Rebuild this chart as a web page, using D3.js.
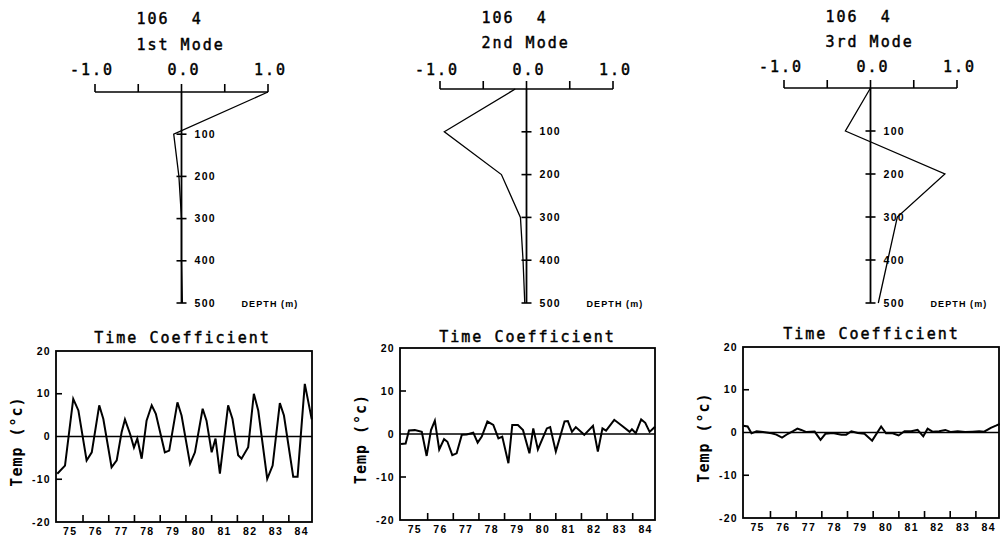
<!DOCTYPE html>
<html>
<head>
<meta charset="utf-8">
<script src="https://cdn.jsdelivr.net/npm/d3@7"></script>
<style>
  body { margin: 0; background: #fff; }
  svg { display: block; }
  .ttl { font-family: "DejaVu Sans Mono", monospace; font-size: 15px; letter-spacing: 2px; fill: #000; stroke: #000; stroke-width: 0.45px; }
  .lab { font-family: "Liberation Sans", Arial, sans-serif; font-size: 10.5px; font-weight: bold; fill: #000; letter-spacing: 1.3px; }
  .ylab { font-family: "DejaVu Sans Mono", monospace; font-size: 15px; font-weight: bold; letter-spacing: 1px; fill: #000; }
</style>
</head>
<body>
<svg id="chart" width="1000" height="538"></svg>
<script>
// vertical modes
const depths = [0, 100, 200, 300, 400, 500];
const depthTicks = [100, 200, 300, 400, 500];
const ampTicks = [-1.0, -0.5, 0, 0.5, 1.0];
const ampLabels = [-1.0, 0.0, 1.0];
const stationLabel = "106  4";
const modeNames = ["1st Mode", "2nd Mode", "3rd Mode"];
const mode1 = [1.0, -0.09, -0.03, 0.0, 0.0, 0.01];
const mode2 = [-0.13, -0.95, -0.29, -0.07, -0.04, -0.02];
const mode3 = [0.0, -0.29, 0.86, 0.31, 0.2, 0.09];

// time coefficients [year, temp]
const yearTicks = [76, 77, 78, 79, 80, 81, 82, 83, 84];
const yearLabels = [75, 76, 77, 78, 79, 80, 81, 82, 83, 84];
const tempTicks = [-20, -10, 0, 10, 20];
const time1 = [[75.00,-8.7],[75.30,-6.8],[75.62,8.8],[75.82,6.1],[76.14,-5.6],[76.34,-3.7],[76.63,7.3],[76.79,4.1],
  [77.11,-7.2],[77.31,-5.6],[77.50,1.0],[77.63,4.0],[77.83,0.6],[77.98,-2.6],[78.11,-0.5],[78.28,-5.2],[78.47,3.7],
  [78.67,7.3],[78.83,5.3],[79.18,-3.7],[79.35,-3.3],[79.67,8.0],[79.83,4.9],[80.16,-6.4],[80.35,-3.7],[80.65,6.5],
  [80.80,3.7],[81.00,-3.7],[81.15,-0.5],[81.32,-8.7],[81.64,7.3],[81.81,4.1],[82.03,-4.4],[82.16,-5.2],[82.42,-2.5],
  [82.64,10.0],[82.81,6.1],[83.16,-9.9],[83.37,-6.8],[83.65,7.8],[83.81,4.9],[84.17,-9.4],[84.34,-9.4],[84.62,12.3],
  [84.89,4.0]];
const time2 = [[74.96,-2.3],[75.14,-2.2],[75.27,0.8],[75.50,0.9],[75.77,0.5],[75.96,-5.1],[76.13,0.9],[76.28,3.1],
  [76.45,-3.6],[76.64,-1.2],[76.77,-1.8],[76.96,-4.9],[77.13,-4.5],[77.33,-0.2],[77.52,-0.1],[77.78,0.3],[77.95,-2.0],
  [78.11,-0.6],[78.33,2.9],[78.56,2.1],[78.76,-1.0],[78.91,-0.6],[79.15,-6.8],[79.30,2.1],[79.52,2.1],[79.72,0.9],
  [79.97,-4.5],[80.12,1.3],[80.30,-3.6],[80.65,1.3],[80.78,1.6],[81.00,-4.1],[81.34,2.9],[81.47,3.0],[81.63,0.5],
  [81.78,1.6],[82.11,-0.2],[82.45,1.9],[82.64,-4.1],[82.82,1.3],[82.96,0.8],[83.28,3.3],[83.58,1.9],[83.88,0.5],
  [83.97,1.1],[84.12,0.2],[84.33,3.4],[84.49,2.6],[84.66,0.5],[84.87,1.7]];
const time3 = [[74.94,1.6],[75.11,1.4],[75.26,-0.2],[75.46,0.3],[75.71,0.1],[76.04,-0.2],[76.23,-0.5],[76.45,-1.2],
  [76.68,-0.3],[76.88,0.3],[77.05,0.9],[77.20,0.6],[77.40,0.1],[77.72,0.2],[77.95,-1.7],[78.14,-0.3],[78.43,-0.1],
  [78.76,-0.5],[78.95,-0.5],[79.15,0.3],[79.40,-0.1],[79.66,-0.3],[79.96,-1.9],[80.31,1.4],[80.50,-0.2],[80.76,-0.2],
  [80.99,-0.7],[81.22,0.3],[81.48,0.3],[81.73,0.6],[81.95,-0.9],[82.12,0.9],[82.31,0.2],[82.57,0.3],[82.81,0.6],
  [83.03,0.1],[83.29,0.3],[83.58,0.1],[83.87,0.2],[84.13,0.3],[84.32,0.2],[84.58,1.1],[84.78,1.6],[84.93,2.0]];

const modes = [mode1, mode2, mode3];
const times = [time1, time2, time3];

// layout
const topLayout = [
  { x0: 95, x1: 268, y0: 92, t1: 24, t2: 50, t3: 75 },
  { x0: 440, x1: 613, y0: 89, t1: 23, t2: 48, t3: 75 },
  { x0: 784, x1: 957, y0: 88, t1: 22, t2: 47, t3: 72 }
];
const depthBottom = 303;
const botLayout = [
  { l: 56, r: 312, t: 351, b: 522, d: [74.95, 84.9], ty: 343 },
  { l: 400, r: 655, t: 348, b: 520, d: [74.92, 84.87], ty: 342 },
  { l: 743, r: 999, t: 347, b: 518, d: [74.93, 84.9], ty: 339 }
];

const svg = d3.select("#chart");

function drawMode(i) {
  const L = topLayout[i];
  const g = svg.append("g");
  const x = d3.scaleLinear().domain([-1, 1]).range([L.x0, L.x1]);
  const y = d3.scaleLinear().domain([0, 500]).range([L.y0, depthBottom]);
  const xz = x(0);

  g.append("text").attr("class", "ttl").attr("x", xz - 45).attr("y", L.t1)
    .style("white-space", "pre").text(stationLabel);
  g.append("text").attr("class", "ttl").attr("x", xz - 45).attr("y", L.t2).text(modeNames[i]);

  g.selectAll(".amp").data(ampLabels).enter().append("text")
    .attr("class", "ttl").attr("text-anchor", "end")
    .attr("x", (d) => x(d) + 19).attr("y", L.t3)
    .text((d) => d.toFixed(1));

  // amplitude axis, ticks pointing up
  g.append("line").attr("x1", x(-1)).attr("x2", x(1)).attr("y1", L.y0).attr("y2", L.y0)
    .attr("stroke", "#000").attr("stroke-width", 1.6);
  g.selectAll(".at").data(ampTicks).enter().append("line")
    .attr("x1", (d) => x(d)).attr("x2", (d) => x(d))
    .attr("y1", L.y0).attr("y2", L.y0 - 8)
    .attr("stroke", "#000").attr("stroke-width", 1.6);

  // depth axis
  g.append("line").attr("x1", xz).attr("x2", xz).attr("y1", y(0)).attr("y2", y(500))
    .attr("stroke", "#000").attr("stroke-width", 1.8);
  g.selectAll(".dt").data(depthTicks).enter().append("line")
    .attr("x1", xz - 5).attr("x2", xz + 5)
    .attr("y1", (d) => y(d)).attr("y2", (d) => y(d))
    .attr("stroke", "#000").attr("stroke-width", 1.6);
  g.selectAll(".dl").data(depthTicks).enter().append("text")
    .attr("class", "lab").attr("x", xz + 13).attr("y", (d) => y(d) + 3.5)
    .text((d) => d);
  g.append("text").attr("class", "lab").attr("x", xz + 60).attr("y", depthBottom + 3.5)
    .style("font-size", "9px").style("letter-spacing", "1.1px").text("DEPTH (m)");

  const line = d3.line().x((d) => x(d[1])).y((d) => y(d[0]));
  g.append("path").datum(depths.map((d, k) => [d, modes[i][k]]))
    .attr("d", line).attr("fill", "none").attr("stroke", "#000").attr("stroke-width", 1.3);
}

function drawTime(i) {
  const L = botLayout[i];
  const g = svg.append("g");
  const x = d3.scaleLinear().domain(L.d).range([L.l, L.r]);
  const y = d3.scaleLinear().domain([-20, 20]).range([L.b, L.t]);

  g.append("text").attr("class", "ttl").attr("text-anchor", "middle")
    .attr("x", topLayout[i].x0 + (topLayout[i].x1 - topLayout[i].x0) / 2 + 1).attr("y", L.ty)
    .text("Time Coefficient");

  g.append("text").attr("class", "ylab").attr("text-anchor", "middle")
    .attr("transform", `translate(${L.l - 34},${(L.t + L.b) / 2 + 5}) rotate(-90)`)
    .text("Temp (°c)");

  g.append("rect").attr("x", L.l).attr("y", L.t).attr("width", L.r - L.l).attr("height", L.b - L.t)
    .attr("fill", "none").attr("stroke", "#000").attr("stroke-width", 1.8);

  g.selectAll(".yt").data([-10, 10]).enter().append("line")
    .attr("x1", L.l).attr("x2", L.l + 6)
    .attr("y1", (d) => y(d)).attr("y2", (d) => y(d))
    .attr("stroke", "#000").attr("stroke-width", 1.6);
  g.selectAll(".yl").data(tempTicks).enter().append("text")
    .attr("class", "lab").attr("text-anchor", "end")
    .attr("x", L.l - 5).attr("y", (d) => y(d) + 3.5)
    .text((d) => (d < 0 ? "-" + Math.abs(d) : d));

  g.selectAll(".xt").data(yearTicks).enter().append("line")
    .attr("x1", (d) => x(d)).attr("x2", (d) => x(d))
    .attr("y1", L.b).attr("y2", L.b - 7)
    .attr("stroke", "#000").attr("stroke-width", 1.6);
  g.selectAll(".xl").data(yearLabels).enter().append("text")
    .attr("class", "lab").attr("text-anchor", "middle")
    .attr("x", (d) => x(d + 0.5)).attr("y", L.b + 13)
    .text((d) => d);

  g.append("line").attr("x1", L.l).attr("x2", L.r).attr("y1", y(0)).attr("y2", y(0))
    .attr("stroke", "#000").attr("stroke-width", 1.5);

  const line = d3.line().x((d) => x(d[0])).y((d) => y(d[1]));
  g.append("path").datum(times[i]).attr("d", line)
    .attr("fill", "none").attr("stroke", "#000").attr("stroke-width", 2);
}

[0, 1, 2].forEach((i) => { drawMode(i); drawTime(i); });
</script>
</body>
</html>
